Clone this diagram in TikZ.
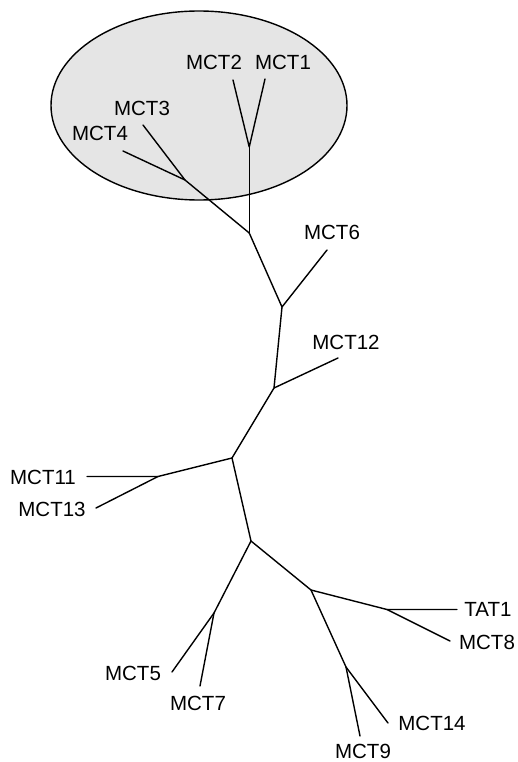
\documentclass[tikz,border=0pt]{standalone}
\usepackage{fontspec}
\setmainfont{Liberation Sans}
\begin{document}
\begin{tikzpicture}[x=1pt,y=-1pt,
  branch/.style={line width=1.4pt,line cap=round,line join=round},
  taxon/.style={font=\fontsize{20.5}{24}\selectfont,inner sep=0pt},
  clade/.style={draw,line width=1.4pt,fill=gray!20}]
\useasboundingbox (0,0) rectangle (517,762);
% highlighted clade
\draw[clade] (199,105.5) ellipse [x radius=148, y radius=94.5];
% internal junctions
\coordinate (a) at (249.25,147);
\coordinate (c) at (185,180);
\coordinate (b) at (249.25,233);
\coordinate (d) at (282,307);
\coordinate (e) at (274,388);
\coordinate (f) at (232,458);
\coordinate (g) at (158,476.5);
\coordinate (h) at (251,541);
\coordinate (i) at (214,613);
\coordinate (j) at (311,590);
\coordinate (k) at (387,609.5);
\coordinate (l) at (346,667);
% leaf tips
\coordinate (t2) at (233,80);
\coordinate (t1) at (265,79);
\coordinate (t3) at (143,125);
\coordinate (t4) at (123,151);
\coordinate (t6) at (327,250);
\coordinate (t12) at (338,358);
\coordinate (t11) at (87,476.5);
\coordinate (t13) at (96,508);
\coordinate (t5) at (172,672);
\coordinate (t7) at (200,686);
\coordinate (tat) at (457,609.5);
\coordinate (t8) at (450,641);
\coordinate (t14) at (388,723);
\coordinate (t9) at (360,736);
% branches
\draw[branch] (t2) -- (a) -- (t1);
\draw[branch] (a) -- (b);
\draw[branch] (t3) -- (c);
\draw[branch] (t4) -- (c) -- (b);
\draw[branch] (b) -- (d) -- (t6);
\draw[branch] (d) -- (e) -- (t12);
\draw[branch] (e) -- (f) -- (g) -- (t11);
\draw[branch] (g) -- (t13);
\draw[branch] (f) -- (h) -- (i) -- (t5);
\draw[branch] (i) -- (t7);
\draw[branch] (h) -- (j) -- (k) -- (tat);
\draw[branch] (k) -- (t8);
\draw[branch] (j) -- (l) -- (t14);
\draw[branch] (l) -- (t9);
% labels
\node[taxon] (n2) at (214,62) {MCT2};
\node[taxon] (n1) at (283,62) {MCT1};
\node[taxon] (n3) at (142,108) {MCT3};
\node[taxon] (n4) at (100,133) {MCT4};
\node[taxon] (n6) at (332,232) {MCT6};
\node[taxon] (n12) at (346,342) {MCT12};
\node[taxon] (n11) at (43,477) {MCT11};
\node[taxon] (n13) at (52,509) {MCT13};
\node[taxon] (ntat) at (488,609) {TAT1};
\node[taxon] (n8) at (487,642) {MCT8};
\node[taxon] (n5) at (133,673) {MCT5};
\node[taxon] (n7) at (198,703) {MCT7};
\node[taxon] (n14) at (432,723) {MCT14};
\node[taxon] (n9) at (363,751) {MCT9};
\end{tikzpicture}
\end{document}
